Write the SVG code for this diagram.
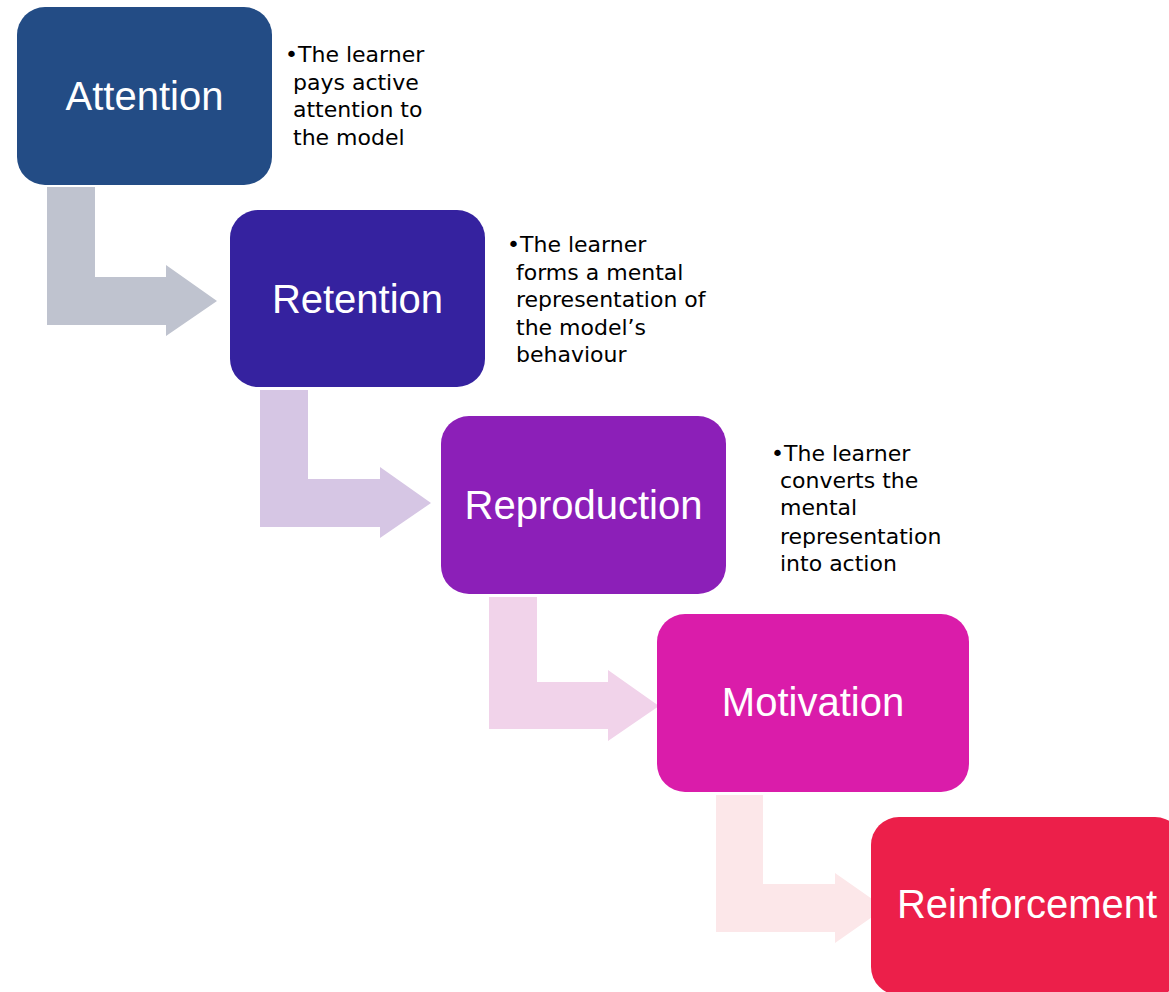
<svg xmlns="http://www.w3.org/2000/svg" width="1169" height="992" viewBox="0 0 1169 992">
  <style>
    .lbl { font-family: "Liberation Sans", Arial, sans-serif; font-size: 40px; fill: #ffffff; text-anchor: middle; }
    .note { font-family: "DejaVu Sans", "Liberation Sans", sans-serif; font-size: 22px; fill: #000000; }
  </style>
  <rect x="0" y="0" width="1169" height="992" fill="#ffffff"/>
  <g id="connectors">
    <path d="M47,187 H95 V277 H166 V265 L217,301 L166,336 V325 H47 Z" fill="#bfc3cf"/>
    <path d="M260,390 H308 V479 H380 V467 L431,503 L380,538 V527 H260 Z" fill="#d6c6e4"/>
    <path d="M489,597 H537 V682 H608 V670 L659,706 L608,741 V729 H489 Z" fill="#f1d3ea"/>
    <path d="M716,795 H763 V884 H835 V873 L885,908 L835,943 V932 H716 Z" fill="#fce7e9"/>
  </g>
  <g id="attention">
    <rect x="17" y="7" width="255" height="178" rx="28" fill="#234c85"/>
    <text class="lbl" x="144.5" y="110">Attention</text>
  </g>
  <g id="attention-note">
    <text class="note" x="285" y="62">•</text>
    <text class="note" x="298" y="62">The learner</text>
    <text class="note" x="293" y="89.5">pays active</text>
    <text class="note" x="293" y="117">attention to</text>
    <text class="note" x="293" y="144.5">the model</text>
  </g>
  <g id="retention">
    <rect x="230" y="210" width="255" height="177" rx="28" fill="#35229f"/>
    <text class="lbl" x="357.5" y="313">Retention</text>
  </g>
  <g id="retention-note">
    <text class="note" x="507" y="252">•</text>
    <text class="note" x="520" y="252">The learner</text>
    <text class="note" x="516" y="279.5">forms a mental</text>
    <text class="note" x="516" y="307">representation of</text>
    <text class="note" x="516" y="334.5">the model’s</text>
    <text class="note" x="516" y="362">behaviour</text>
  </g>
  <g id="reproduction">
    <rect x="441" y="416" width="285" height="178" rx="28" fill="#8c1fb8"/>
    <text class="lbl" x="583.5" y="519">Reproduction</text>
  </g>
  <g id="reproduction-note">
    <text class="note" x="771" y="461">•</text>
    <text class="note" x="784" y="461">The learner</text>
    <text class="note" x="780" y="488">converts the</text>
    <text class="note" x="780" y="515">mental</text>
    <text class="note" x="780" y="544">representation</text>
    <text class="note" x="780" y="571">into action</text>
  </g>
  <g id="motivation">
    <rect x="657" y="614" width="312" height="178" rx="28" fill="#da1caa"/>
    <text class="lbl" x="813" y="716">Motivation</text>
  </g>
  <g id="reinforcement">
    <rect x="871" y="817" width="312" height="178" rx="28" fill="#ec1f4a"/>
    <text class="lbl" x="1027" y="918">Reinforcement</text>
  </g>
</svg>
